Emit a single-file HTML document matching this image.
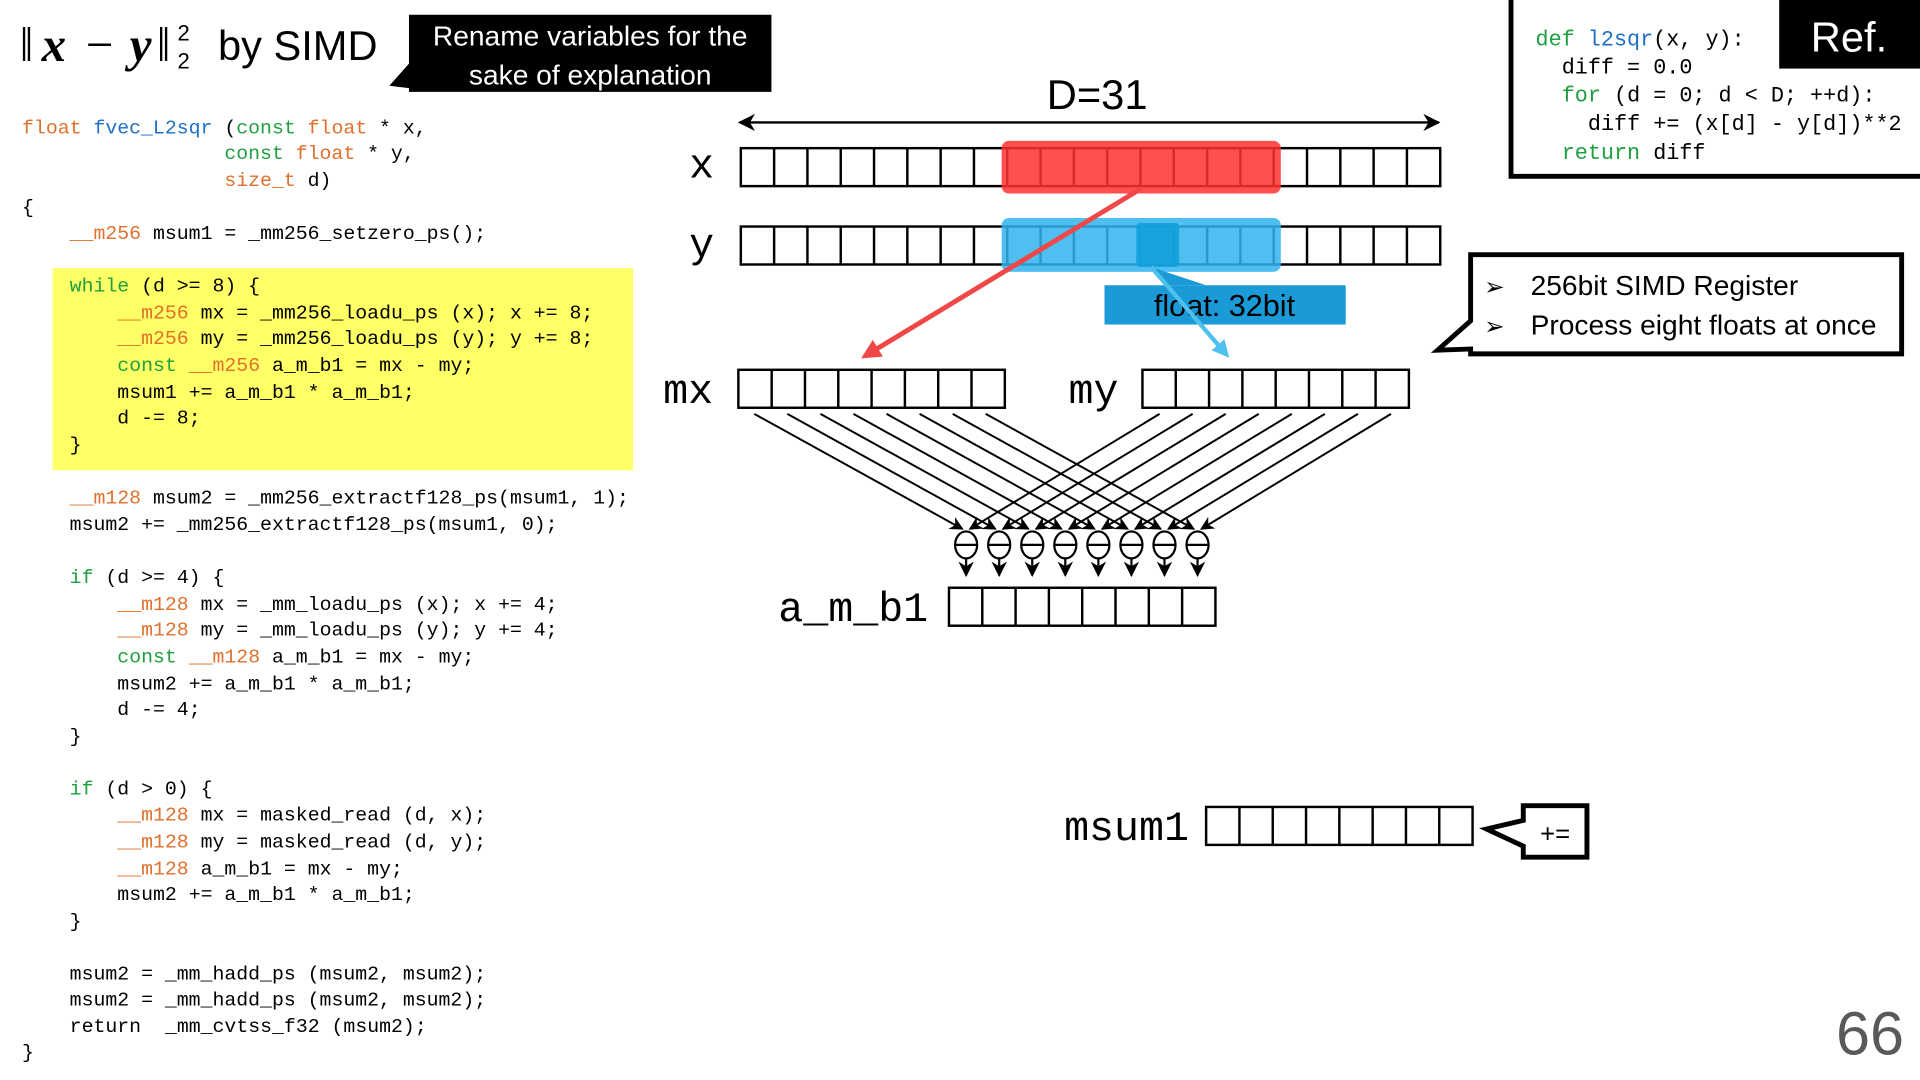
<!DOCTYPE html>
<html><head><meta charset="utf-8"><style>
html,body{margin:0;padding:0;background:#fff;width:1920px;height:1080px;overflow:hidden}
svg{display:block}
.c{font-family:"Liberation Mono",monospace;font-size:16.2px}
.r{font-family:"Liberation Mono",monospace;font-size:17.8px}
.o{fill:#e0702c}.b{fill:#1f6fc5}.g{fill:#1fa040}
</style></head><body>
<svg width="1920" height="1080" viewBox="0 0 1568 882" xmlns="http://www.w3.org/2000/svg">
<defs>
<g id="r8"><rect x="0" y="0" width="217.6" height="31" fill="none" stroke="#000" stroke-width="2"/>
<path d="M27.2 0v31M54.4 0v31M81.6 0v31M108.8 0v31M136 0v31M163.2 0v31M190.4 0v31" stroke="#000" stroke-width="2"/></g>
<marker id="ah" viewBox="0 0 10 10" refX="9" refY="5" markerWidth="7" markerHeight="7" orient="auto-start-reverse"><path d="M0 0L10 5L0 10L3 5z" fill="#000"/></marker>
<marker id="ahr" viewBox="0 0 10 10" refX="8" refY="5" markerWidth="4" markerHeight="4" orient="auto"><path d="M0 0L10 5L0 10z" fill="#f04848"/></marker>
<marker id="ahb" viewBox="0 0 10 10" refX="8" refY="5" markerWidth="4" markerHeight="4" orient="auto"><path d="M0 0L10 5L0 10z" fill="#4ec0ee"/></marker>
<g id="sub"><ellipse cx="0" cy="0" rx="9" ry="11" fill="none" stroke="#000" stroke-width="1.8"/><path d="M-9 0H9" stroke="#000" stroke-width="1.8"/><path d="M0 11V25" stroke="#000" stroke-width="1.8" marker-end="url(#ah)"/></g>
</defs>

<!-- title -->
<g font-family="Liberation Serif, serif" font-size="40">
<text x="16" y="50">‖</text>
<text x="34" y="50" font-style="italic" font-weight="bold">x</text>
<text x="70" y="50">−</text>
<text x="106" y="50" font-style="italic" font-weight="bold">y</text>
<text x="128" y="50">‖</text>
</g>
<text x="145" y="33" font-family="Liberation Sans, sans-serif" font-size="18">2</text>
<text x="145" y="56" font-family="Liberation Sans, sans-serif" font-size="18">2</text>
<text x="178" y="49" font-family="Liberation Sans, sans-serif" font-size="34">by SIMD</text>

<!-- rename callout -->
<path d="M334 12H630V75H334V72L318 70L334 52Z" fill="#000"/>
<text x="482" y="37" font-family="Liberation Sans, sans-serif" font-size="23" fill="#fff" text-anchor="middle">Rename variables for the</text>
<text x="482" y="69" font-family="Liberation Sans, sans-serif" font-size="23" fill="#fff" text-anchor="middle">sake of explanation</text>

<!-- yellow -->
<rect x="43" y="219" width="474" height="165" fill="#ffff66"/>

<!-- code -->
<g class="c">
<text x="18" y="109"><tspan class="o">float</tspan> <tspan class="b">fvec_L2sqr</tspan> (<tspan class="g">const</tspan> <tspan class="o">float</tspan> * x,</text>
<text x="183.2" y="130"><tspan class="g">const</tspan> <tspan class="o">float</tspan> * y,</text>
<text x="183.2" y="152"><tspan class="o">size_t</tspan> d)</text>
<text x="18" y="174">{</text>
<text x="56.9" y="195"><tspan class="o">__m256</tspan> msum1 = _mm256_setzero_ps();</text>
<text x="56.9" y="238"><tspan class="g">while</tspan> (d &gt;= 8) {</text>
<text x="95.8" y="260"><tspan class="o">__m256</tspan> mx = _mm256_loadu_ps (x); x += 8;</text>
<text x="95.8" y="281"><tspan class="o">__m256</tspan> my = _mm256_loadu_ps (y); y += 8;</text>
<text x="95.8" y="303"><tspan class="g">const</tspan> <tspan class="o">__m256</tspan> a_m_b1 = mx - my;</text>
<text x="95.8" y="325">msum1 += a_m_b1 * a_m_b1;</text>
<text x="95.8" y="346">d -= 8;</text>
<text x="56.9" y="368">}</text>
<text x="56.9" y="411"><tspan class="o">__m128</tspan> msum2 = _mm256_extractf128_ps(msum1, 1);</text>
<text x="56.9" y="433">msum2 += _mm256_extractf128_ps(msum1, 0);</text>
<text x="56.9" y="476"><tspan class="g">if</tspan> (d &gt;= 4) {</text>
<text x="95.8" y="498"><tspan class="o">__m128</tspan> mx = _mm_loadu_ps (x); x += 4;</text>
<text x="95.8" y="519"><tspan class="o">__m128</tspan> my = _mm_loadu_ps (y); y += 4;</text>
<text x="95.8" y="541"><tspan class="g">const</tspan> <tspan class="o">__m128</tspan> a_m_b1 = mx - my;</text>
<text x="95.8" y="563">msum2 += a_m_b1 * a_m_b1;</text>
<text x="95.8" y="584">d -= 4;</text>
<text x="56.9" y="606">}</text>
<text x="56.9" y="649"><tspan class="g">if</tspan> (d &gt; 0) {</text>
<text x="95.8" y="670"><tspan class="o">__m128</tspan> mx = masked_read (d, x);</text>
<text x="95.8" y="692"><tspan class="o">__m128</tspan> my = masked_read (d, y);</text>
<text x="95.8" y="714"><tspan class="o">__m128</tspan> a_m_b1 = mx - my;</text>
<text x="95.8" y="735">msum2 += a_m_b1 * a_m_b1;</text>
<text x="56.9" y="757">}</text>
<text x="56.9" y="800">msum2 = _mm_hadd_ps (msum2, msum2);</text>
<text x="56.9" y="821">msum2 = _mm_hadd_ps (msum2, msum2);</text>
<text x="56.9" y="843">return</text>
<text x="134.7" y="843">_mm_cvtss_f32 (msum2);</text>
<text x="18" y="864">}</text>
</g>

<!-- D=31 -->
<text x="896" y="89" font-family="Liberation Sans, sans-serif" font-size="34" text-anchor="middle">D=31</text>
<path d="M604 100H1175" stroke="#000" stroke-width="2" marker-start="url(#ah)" marker-end="url(#ah)"/>

<!-- x register -->
<text x="573" y="145" font-family="Liberation Mono, monospace" font-size="34" text-anchor="middle">x</text>
<rect x="605" y="121" width="571.2" height="31" fill="none" stroke="#000" stroke-width="2"/>
<path d="M632.2 121v31M659.4 121v31M686.6 121v31M713.8 121v31M741 121v31M768.2 121v31M795.4 121v31M822.6 121v31M849.8 121v31M877 121v31M904.2 121v31M931.4 121v31M958.6 121v31M985.8 121v31M1013 121v31M1040.2 121v31M1067.4 121v31M1094.6 121v31M1121.8 121v31M1149 121v31" stroke="#000" stroke-width="2"/>
<rect x="818" y="115" width="228" height="43" rx="6" fill="#ff3030" fill-opacity="0.85"/>

<!-- y register -->
<text x="573" y="210" font-family="Liberation Mono, monospace" font-size="34" text-anchor="middle">y</text>
<rect x="605" y="185" width="571.2" height="31" fill="none" stroke="#000" stroke-width="2"/>
<path d="M632.2 185v31M659.4 185v31M686.6 185v31M713.8 185v31M741 185v31M768.2 185v31M795.4 185v31M822.6 185v31M849.8 185v31M877 185v31M904.2 185v31M931.4 185v31M958.6 185v31M985.8 185v31M1013 185v31M1040.2 185v31M1067.4 185v31M1094.6 185v31M1121.8 185v31M1149 185v31" stroke="#000" stroke-width="2"/>
<rect x="818" y="178" width="228" height="44" rx="6" fill="#30b4ee" fill-opacity="0.85"/>
<rect x="928" y="182" width="35" height="36" rx="3" fill="#10a0dc" fill-opacity="0.9"/>

<!-- float box -->
<path d="M902 233H1099V265H902Z" fill="#1a9ad6"/>
<path d="M940 218L985 233H955Z" fill="#1a9ad6"/>
<text x="1000" y="258" font-family="Liberation Sans, sans-serif" font-size="25" text-anchor="middle">float: 32bit</text>

<!-- arrows -->
<path d="M932 154L706 291" stroke="#f04848" stroke-width="4" marker-end="url(#ahr)"/>
<path d="M940 218L1002 290" stroke="#4ec0ee" stroke-width="3.5" marker-end="url(#ahb)"/>

<!-- mx my -->
<text x="562" y="329" font-family="Liberation Mono, monospace" font-size="34" text-anchor="middle">mx</text>
<use href="#r8" x="603" y="302"/>
<text x="893" y="329" font-family="Liberation Mono, monospace" font-size="34" text-anchor="middle">my</text>
<use href="#r8" x="933" y="302"/>

<!-- cross lines -->
<g stroke="#000" stroke-width="1.6" fill="none" marker-end="url(#ah)">
<path d="M616 338L786 432"/><path d="M643 338L813 432"/><path d="M670 338L840 432"/><path d="M697 338L867 432"/>
<path d="M724 338L894 432"/><path d="M751 338L921 432"/><path d="M778 338L948 432"/><path d="M805 338L975 432"/>
<path d="M947 338L792 432"/><path d="M974 338L819 432"/><path d="M1001 338L846 432"/><path d="M1028 338L873 432"/>
<path d="M1055 338L900 432"/><path d="M1082 338L927 432"/><path d="M1109 338L954 432"/><path d="M1136 338L981 432"/>
</g>
<use href="#sub" x="789" y="445"/><use href="#sub" x="816" y="445"/><use href="#sub" x="843" y="445"/><use href="#sub" x="870" y="445"/>
<use href="#sub" x="897" y="445"/><use href="#sub" x="924" y="445"/><use href="#sub" x="951" y="445"/><use href="#sub" x="978" y="445"/>

<!-- a_m_b1 -->
<text x="758" y="507" font-family="Liberation Mono, monospace" font-size="34" text-anchor="end">a_m_b1</text>
<use href="#r8" x="775" y="480"/>

<!-- msum1 -->
<text x="971" y="686" font-family="Liberation Mono, monospace" font-size="34" text-anchor="end">msum1</text>
<use href="#r8" x="985" y="659"/>
<path d="M1244 658H1296V700H1244V691L1214 677L1244 670Z" fill="#fff" stroke="#000" stroke-width="4" stroke-linejoin="miter"/>
<text x="1270" y="688" font-family="Liberation Sans, sans-serif" font-size="21" text-anchor="middle">+=</text>

<!-- SIMD callout -->
<path d="M1201 208H1553V289H1201V285L1174 286L1201 262Z" fill="#fff" stroke="#000" stroke-width="4"/>
<text x="1212" y="241" font-family="DejaVu Sans, sans-serif" font-size="20">➢</text>
<text x="1212" y="273" font-family="DejaVu Sans, sans-serif" font-size="20">➢</text>
<text x="1250" y="241" font-family="Liberation Sans, sans-serif" font-size="23">256bit SIMD Register</text>
<text x="1250" y="273" font-family="Liberation Sans, sans-serif" font-size="23">Process eight floats at once</text>

<!-- Ref box -->
<path d="M1234 -4V144H1572" fill="none" stroke="#000" stroke-width="4"/>
<rect x="1453" y="0" width="115" height="56" fill="#000"/>
<text x="1510" y="42" font-family="Liberation Sans, sans-serif" font-size="34" fill="#fff" text-anchor="middle">Ref.</text>
<g class="r">
<text x="1254" y="37"><tspan class="g">def</tspan> <tspan class="b">l2sqr</tspan>(x, y):</text>
<text x="1275.4" y="60">diff = 0.0</text>
<text x="1275.4" y="83"><tspan class="g">for</tspan> (d = 0; d &lt; D; ++d):</text>
<text x="1296.8" y="106">diff += (x[d] - y[d])**2</text>
<text x="1275.4" y="130"><tspan class="g">return</tspan> diff</text>
</g>

<text x="1555" y="861" font-family="Liberation Sans, sans-serif" font-size="50" fill="#595959" text-anchor="end">66</text>
</svg>
</body></html>
